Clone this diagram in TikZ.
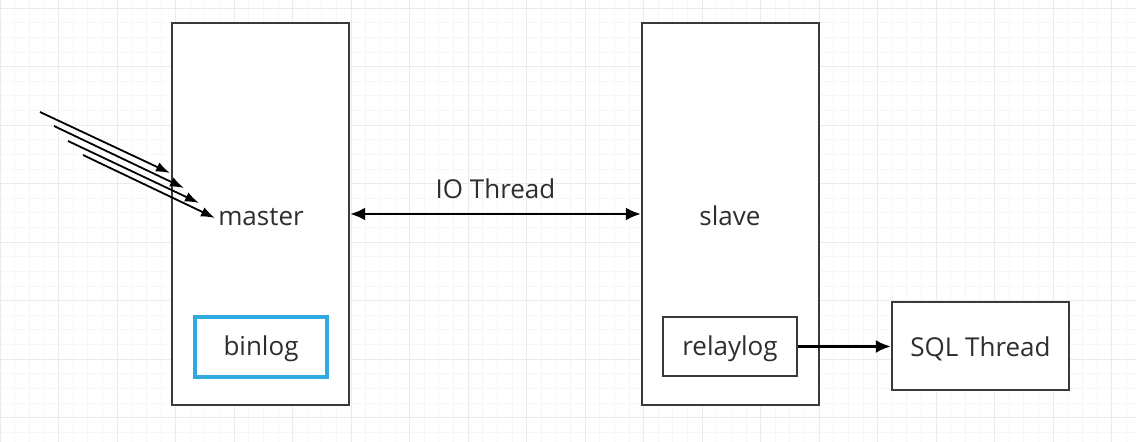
\documentclass[tikz,border=0pt]{standalone}
\usepackage{fontspec}
\setmainfont{Open Sans}
\usetikzlibrary{arrows.meta}
\definecolor{txt}{HTML}{2E2E2E}
\definecolor{boxline}{HTML}{3A3A3A}
\definecolor{binblue}{HTML}{2FA9E0}
\tikzset{
  box/.style={draw=boxline, line width=2.4pt, fill=white, inner sep=0pt},
  lbl/.style={text=txt, font=\fontsize{26}{30}\selectfont, inner sep=0pt},
  conn/.style={draw=black, line width=2.4pt, -{Latex[length=15pt,width=13pt]}},
  feed/.style={draw=black, line width=1.8pt, -{Latex[length=14pt,width=10pt]}},
  gridminor/.style={draw=black!3.5, line width=0.6pt},
  gridmajor/.style={draw=black!8, line width=1pt}
}
\begin{document}
\begin{tikzpicture}[x=1pt,y=-1pt]
\useasboundingbox (0,0) rectangle (1136,442);
\fill[white] (0,0) rectangle (1136,442);
% background grid
\foreach \i in {0,...,78} { \draw[gridminor] ({\i*14.625},0) -- ({\i*14.625},442); }
\foreach \j in {-1,...,30} { \draw[gridminor] (0,{8+\j*14.625}) -- (1136,{8+\j*14.625}); }
\foreach \i in {0,...,19} { \draw[gridmajor] ({\i*58.5},0) -- ({\i*58.5},442); }
\foreach \j in {0,...,7} { \draw[gridmajor] (0,{8+\j*58.5}) -- (1136,{8+\j*58.5}); }
% main boxes
\node[box, minimum width=177pt, minimum height=382pt] (master) at (260.5,214) {};
\node[box, minimum width=177pt, minimum height=382pt] (slave) at (730.5,214) {};
\node[lbl] (mastertxt) at (261,217) {master};
\node[lbl] (slavetxt) at (730,216) {slave};
\node[draw=binblue, line width=4.5pt, fill=white, minimum width=132pt, minimum height=60pt, inner sep=0pt] (binlog) at (261,347) {};
\node[lbl] at (261,349) {binlog};
\node[box, minimum width=134pt, minimum height=59pt] (relaylog) at (730,346.5) {};
\node[lbl] at (730,349) {relaylog};
\node[box, minimum width=177pt, minimum height=88pt] (sql) at (980.5,346) {};
\node[lbl] at (980.5,349) {SQL Thread};
% IO thread
\draw[conn, {Latex[length=15pt,width=13pt]}-{Latex[length=15pt,width=13pt]}] (master.east |- 0,214) -- (slave.west |- 0,214) node[midway, above=14pt, lbl] (io) {IO Thread};
% relaylog -> SQL thread
\draw[conn] (relaylog.east) -- (sql.west |- relaylog.east);
% incoming requests
\coordinate (s1) at (40,112);  \coordinate (e1) at (170,173);
\coordinate (s2) at (54,126);  \coordinate (e2) at (184,188);
\coordinate (s3) at (68,141);  \coordinate (e3) at (199,203);
\coordinate (s4) at (83,155);  \coordinate (e4) at (215,218);
\draw[feed] (s1) -- (e1);
\draw[feed] (s2) -- (e2);
\draw[feed] (s3) -- (e3);
\draw[feed] (s4) -- (e4);
\end{tikzpicture}
\end{document}
